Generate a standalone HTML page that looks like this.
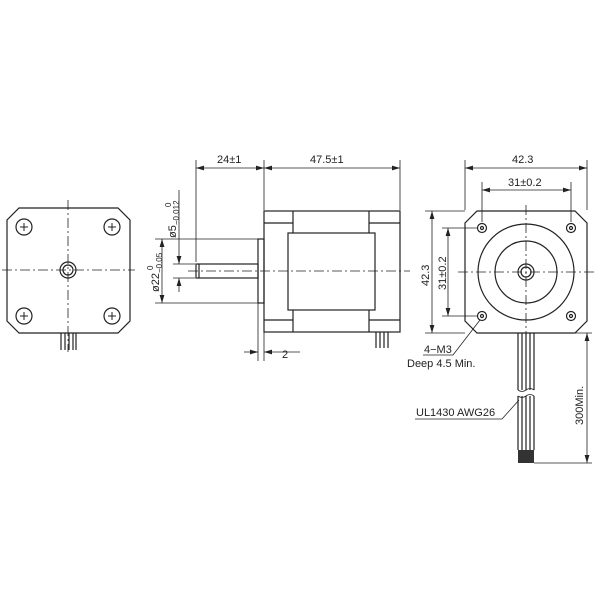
<!DOCTYPE html>
<html><head><style>
html,body{margin:0;padding:0;background:#fff;}
svg{display:block;}
text{font-family:"Liberation Sans",sans-serif;fill:#222;}
</style></head><body>
<svg width="600" height="600" viewBox="0 0 600 600" xmlns="http://www.w3.org/2000/svg">
<defs>
<marker id="a" viewBox="0 0 10 6" refX="10" refY="3" markerWidth="8" markerHeight="5" orient="auto-start-reverse" markerUnits="userSpaceOnUse"><path d="M0,0 L10,3 L0,6 Z" fill="#222"/></marker>
</defs>
<g fill="none" stroke="#222" stroke-width="1.2">
<!-- LEFT VIEW -->
<path d="M19,208 L118,208 L130,220 L130,321 L118,333 L19,333 L7,321 L7,220 Z"/>
<g stroke-width="0.8" stroke-dasharray="10,3,2,3">
<line x1="68" y1="200" x2="68" y2="352"/>
<line x1="2" y1="270" x2="135" y2="270"/>
</g>
<circle cx="68" cy="270" r="8"/><circle cx="68" cy="270" r="5"/>
<g>
<circle cx="24" cy="227" r="8"/><circle cx="112" cy="227" r="8"/>
<circle cx="24" cy="316" r="8"/><circle cx="112" cy="316" r="8"/>
</g>
<g stroke-width="1">
<path d="M20,227h8M24,223v8M108,227h8M112,223v8M20,316h8M24,312v8M108,316h8M112,312v8"/>
</g>
<path d="M61,333v17M65,333v17M69,333v17M73,333v17M76,333v17"/>

<!-- SIDE VIEW -->
<rect x="264" y="211" width="136" height="121"/>
<path d="M264,223h29M369,223h31M293,211v22M369,211v22M264,320h29M369,320h31M293,310v22M369,310v22"/>
<rect x="288" y="233" width="87" height="77"/>
<rect x="258" y="239" width="6" height="64"/>
<rect x="196" y="264" width="62" height="14"/>
<line x1="199" y1="264" x2="199" y2="278"/>
<line x1="188" y1="271" x2="410" y2="271" stroke-width="0.8" stroke-dasharray="10,3,2,3"/>
<path d="M376,332v16M380,332v16M384,332v16M388,332v16"/>
<g stroke-width="0.8">
<path d="M196,160v102M264,160v50M400,160v50"/>
<line x1="196" y1="168" x2="264" y2="168" marker-start="url(#a)" marker-end="url(#a)"/>
<line x1="264" y1="168" x2="400" y2="168" marker-start="url(#a)" marker-end="url(#a)"/>
<path d="M155,239h103M155,303h103M173,264h22M173,278h22"/>
<line x1="162" y1="239" x2="162" y2="303" marker-start="url(#a)" marker-end="url(#a)"/>
<line x1="179" y1="250" x2="179" y2="264" marker-end="url(#a)"/>
<line x1="179" y1="292" x2="179" y2="278" marker-end="url(#a)"/>
<line x1="179" y1="190" x2="179" y2="250"/>
<path d="M258,303v58M264,303v58"/>
<line x1="244" y1="352" x2="258" y2="352" marker-end="url(#a)"/>
<line x1="300" y1="352" x2="264" y2="352" marker-end="url(#a)"/>
</g>

<!-- RIGHT VIEW -->
<path d="M477,211 L575,211 L587,223 L587,321 L575,333 L477,333 L465,321 L465,223 Z"/>
<circle cx="526" cy="272" r="48"/>
<circle cx="526" cy="272" r="31"/>
<circle cx="526" cy="272" r="8"/><circle cx="526" cy="272" r="5"/>
<circle cx="482" cy="228" r="4.5"/><circle cx="571" cy="228" r="4.5"/>
<circle cx="482" cy="316" r="4.5"/><circle cx="571" cy="316" r="4.5"/>
<circle cx="482" cy="228" r="1.5"/><circle cx="571" cy="228" r="1.5"/>
<circle cx="482" cy="316" r="1.5"/><circle cx="571" cy="316" r="1.5"/>
<g stroke-width="0.8" stroke-dasharray="10,3,2,3">
<line x1="526" y1="205" x2="526" y2="340"/>
<line x1="458" y1="272" x2="595" y2="272"/>
</g>
<g stroke-width="0.8">
<path d="M465,160v50M587,160v50M482,182v40M571,182v40"/>
<line x1="465" y1="168" x2="587" y2="168" marker-start="url(#a)" marker-end="url(#a)"/>
<line x1="482" y1="190" x2="571" y2="190" marker-start="url(#a)" marker-end="url(#a)"/>
<path d="M425,211h40M425,333h40M442,228h36M442,316h36"/>
<line x1="432" y1="211" x2="432" y2="333" marker-start="url(#a)" marker-end="url(#a)"/>
<line x1="448" y1="228" x2="448" y2="316" marker-start="url(#a)" marker-end="url(#a)"/>
<path d="M423,355h30L480,320"/>
<path d="M415,419h87L519,400"/>
<path d="M534,333h58M534,463h58"/>
<line x1="587" y1="333" x2="587" y2="463" marker-start="url(#a)" marker-end="url(#a)"/>
</g>
<path d="M518,333v57M534,333v57M522,333v57M526,333v57M530,333v57"/>
<path d="M518,396v54M534,396v54M522,396v54M526,396v54M530,396v54"/>
<path d="M518,390q4,3 8,0t8,0M518,396q4,3 8,0t8,0" stroke-width="0.8"/>
</g>
<rect x="518" y="450" width="16" height="13" fill="#333"/>
<g font-size="11">
<text x="217" y="163">24±1</text>
<text x="310" y="163">47.5±1</text>
<text x="512" y="163">42.3</text>
<text x="508" y="186">31±0.2</text>
<text x="282" y="358">2</text>
<text x="424" y="353">4−M3</text>
<text x="407" y="367">Deep 4.5 Min.</text>
<text x="416" y="416">UL1430  AWG26</text>
<text transform="translate(429,286) rotate(-90)">42.3</text>
<text transform="translate(446,290) rotate(-90)">31±0.2</text>
<text transform="translate(583,425) rotate(-90)">300Min.</text>
<text transform="translate(159,292) rotate(-90)">ø22<tspan font-size="8" dy="3">−0.05</tspan></text>
<text transform="translate(176,238) rotate(-90)">ø5<tspan font-size="8" dy="3">−0.012</tspan></text>
<text transform="translate(153,270) rotate(-90)" font-size="8">0</text>
<text transform="translate(171,207) rotate(-90)" font-size="8">0</text>
</g>
</svg>
</body></html>
